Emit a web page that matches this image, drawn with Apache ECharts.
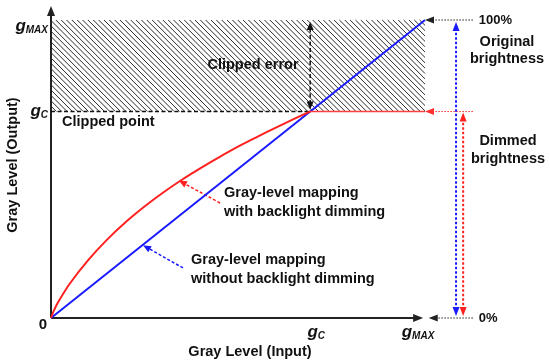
<!DOCTYPE html>
<html><head><meta charset="utf-8">
<script src="https://cdn.jsdelivr.net/npm/echarts@6/dist/echarts.min.js"></script>
<style>html,body{margin:0;padding:0;background:#fff}#c{width:550px;height:360px}</style>
</head><body><div id="c"></div>
<script>
// ---- values (gray levels in % of g_MAX) ----
const gC = 69.3;
const gMax = 100;
const blueLine = [[0, 0], [100, 100]];
const redCurve = [[0, 0], [0.7, 2.3], [2, 5.5], [5, 11.5], [10, 19.5], [15, 26.3], [20, 32.2], [25, 37.4],
  [30, 42.1], [35, 46.4], [40, 50.3], [45, 54], [50, 57.5], [55, 60.7], [60, 63.8], [65, 66.8], [69.3, 69.3]];
const redFlat = [[69.3, 69.3], [100, 69.3]];
const xTickLabels = [gC, gMax];
const xTickTexts = ['{g|g}{s|C}', '{g|g}{s|MAX}'];
const yTickLabels = [gMax, gC];
const yTickTexts = ['{g|g}{s|MAX}', '{g|g}{s|C}'];
const xAxisEnd = [99.5, 0];
const yAxisTop = [0, 104.7];
const clipLevelLine = [[0, gC], [gC, gC]];
const clipErrorArrow = [[gC, gC], [gC, gMax]];
const redPointer = [[45.2, 38.6], [34.2, 46.1]];
const bluePointer = [[35.3, 16.8], [24.6, 24.4]];
const origBrightness = [[108.3, 0], [108.3, gMax]];
const dimBrightness = [[110.2, 0], [110.2, gC]];
const levelFrom = 112.8;
const levelMarks = [gMax, gC, 0];
const levelTips = [100, 100, 101];
const levelTexts = ['100%', '', '0%'];

const FONT = '"Liberation Sans", Arial, sans-serif';
const chart = echarts.init(document.getElementById('c'));

function arrowParts(a, b, o) {
  const out = [];
  const dx = b[0] - a[0], dy = b[1] - a[1], L = Math.hypot(dx, dy), ux = dx / L, uy = dy / L;
  const len = o.len || 8, half = o.half || 3.5;
  const s = o.headStart ? [a[0] + ux * len * 0.7, a[1] + uy * len * 0.7] : a;
  const e = o.headEnd ? [b[0] - ux * len * 0.7, b[1] - uy * len * 0.7] : b;
  out.push({ type: 'line', shape: { x1: s[0], y1: s[1], x2: e[0], y2: e[1] },
    style: { stroke: o.color, lineWidth: o.width || 1.5, lineDash: o.dash || null } });
  const head = (tip, ux, uy) => ({ type: 'polygon', shape: { points: [tip,
      [tip[0] - ux * len - uy * half, tip[1] - uy * len + ux * half],
      [tip[0] - ux * len + uy * half, tip[1] - uy * len - ux * half]] },
    style: { fill: o.color } });
  if (o.headEnd) out.push(head(b, ux, uy));
  if (o.headStart) out.push(head(a, -ux, -uy));
  return out;
}
function txt(x, y, text, o) {
  o = o || {};
  return { type: 'text', x: x, y: y, rotation: o.rot || 0,
    style: { text: text, fill: '#111', fontFamily: FONT, fontWeight: 'bold', fontSize: o.size || 14.5,
      align: o.align || 'left', verticalAlign: 'middle', lineHeight: o.lh || 18, rich: o.rich } };
}
const gRich = {
  g: { fontFamily: FONT, fontStyle: 'italic', fontWeight: 'bold', fontSize: 17, fill: '#111' },
  s: { fontFamily: FONT, fontStyle: 'italic', fontWeight: 'bold', fontSize: 10, fill: '#111', verticalAlign: 'bottom', padding: [6, 0, 0, 0] }
};

function renderAll(params, api) {
  const P = d => api.coord(d);
  const kids = [];
  // hatched clipped-error region
  const tl = P([0, gMax]), br = P([gMax, gC]);
  const x0 = tl[0], y0 = tl[1], x1 = br[0], y1 = br[1];
  for (let c = y0 - x1; c <= y1 - x0; c += 5.35) {
    const xa = Math.max(x0, y0 - c), xb = Math.min(x1, y1 - c);
    if (xb > xa) kids.push({ type: 'line', shape: { x1: xa, y1: xa + c, x2: xb, y2: xb + c },
      style: { stroke: '#2a2a2a', lineWidth: 1 } });
  }
  // axes
  const o = P([0, 0]);
  kids.push(...arrowParts(o, P(yAxisTop), { color: '#222', width: 2, headEnd: true, len: 10, half: 4 }));
  kids.push(...arrowParts(o, P(xAxisEnd), { color: '#222', width: 2, headEnd: true, len: 10, half: 4 }));
  // clipped guides
  kids.push(...arrowParts(P(clipLevelLine[0]), P(clipLevelLine[1]), { color: '#111', width: 1.5, dash: [4, 2.5] }));
  const ce0 = P(clipErrorArrow[0]), ce1 = P(clipErrorArrow[1]);
  kids.push(...arrowParts([ce0[0], ce0[1] - 2], [ce1[0], ce1[1] + 2], { color: '#111', width: 1.5, dash: [4, 2.5], headStart: true, headEnd: true, len: 8, half: 3.5 }));
  // pointers
  kids.push(...arrowParts(P(redPointer[0]), P(redPointer[1]), { color: '#ff2020', width: 1.5, dash: [3, 2], headEnd: true, len: 8, half: 3.5 }));
  kids.push(...arrowParts(P(bluePointer[0]), P(bluePointer[1]), { color: '#1a1aff', width: 1.5, dash: [3, 2], headEnd: true, len: 8, half: 3.5 }));
  // right side level markers
  levelMarks.forEach((v, i) => {
    const a = P([levelFrom, v]), b = P([levelTips[i], v]);
    const col = levelTexts[i] === '' ? '#ff3030' : '#222';
    kids.push(...arrowParts(a, b, { color: col, width: 1, dash: [1.5, 1.5], headEnd: true, len: 9, half: 3.5 }));
    if (levelTexts[i]) kids.push(txt(a[0] + 6, a[1], levelTexts[i], { size: 13 }));
  });
  const ob0 = P(origBrightness[0]), ob1 = P(origBrightness[1]);
  kids.push(...arrowParts([ob0[0], ob0[1] - 2], [ob1[0], ob1[1] + 2], { color: '#1a1aff', width: 2, dash: [2.5, 2], headStart: true, headEnd: true, len: 9, half: 3.5 }));
  const db0 = P(dimBrightness[0]), db1 = P(dimBrightness[1]);
  kids.push(...arrowParts([db0[0], db0[1] - 2], [db1[0], db1[1] + 1], { color: '#ff2020', width: 2, dash: [2.5, 2], headStart: true, headEnd: true, len: 9, half: 3.5 }));
  // tick labels
  kids.push(txt(o[0] - 8, o[1] + 7, '0', { size: 15, align: 'center' }));
  xTickLabels.forEach((v, i) => {
    const p = P([v, 0]);
    kids.push(txt(p[0] + (i === 0 ? 6 : -7), p[1] + 14, xTickTexts[i], { align: 'center', rich: gRich }));
  });
  yTickLabels.forEach((v, i) => {
    const p = P([0, v]);
    kids.push(txt(p[0] - 3, p[1] + (i === 0 ? 6 : 0), yTickTexts[i], { align: 'right', rich: gRich }));
  });
  // annotation texts
  const cl = P([0, gC]);
  kids.push(txt(cl[0] + 11, cl[1] + 11, 'Clipped point'));
  kids.push(txt(253, 65, 'Clipped error', { align: 'center' }));
  const rp = P(redPointer[0]);
  kids.push(txt(rp[0] + 4, rp[1], 'Gray-level mapping\nwith backlight dimming', { lh: 19 }));
  const bp = P(bluePointer[0]);
  kids.push(txt(bp[0] + 8, bp[1] + 2, 'Gray-level mapping\nwithout backlight dimming', { lh: 19 }));
  kids.push(txt(507, 50.5, 'Original\nbrightness', { align: 'center', lh: 17 }));
  kids.push(txt(508, 150, 'Dimmed\nbrightness', { align: 'center', lh: 18 }));
  kids.push(txt(250, 352, 'Gray Level (Input)', { align: 'center' }));
  kids.push(txt(13, 165, 'Gray Level (Output)', { align: 'center', rot: Math.PI / 2 }));
  return { type: 'group', children: kids };
}

chart.setOption({
  animation: false,
  grid: { left: 51, top: 20, right: 125, bottom: 42 },
  xAxis: { type: 'value', min: 0, max: 100, show: false },
  yAxis: { type: 'value', min: 0, max: 100, show: false },
  series: [
    { type: 'custom', clip: false, z: 1, data: [[0, 0]], renderItem: renderAll, silent: true },
    { type: 'line', z: 3, data: blueLine, showSymbol: false, lineStyle: { color: '#1a1aff', width: 2 }, silent: true },
    { type: 'line', z: 4, data: redCurve, smooth: 0.3, showSymbol: false, lineStyle: { color: '#ff2020', width: 2 }, silent: true },
    { type: 'line', z: 4, data: redFlat, showSymbol: false, lineStyle: { color: '#ff4040', width: 1.5 }, silent: true }
  ]
});
</script></body></html>
